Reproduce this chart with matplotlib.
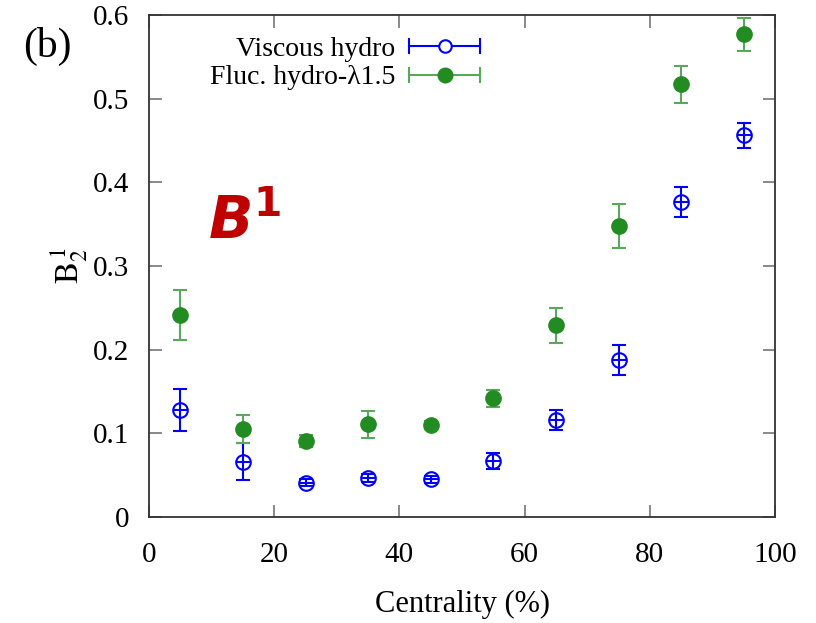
import matplotlib
matplotlib.use("Agg")
import matplotlib.pyplot as plt
from matplotlib.legend_handler import HandlerBase
from matplotlib.lines import Line2D

plt.rcParams['font.family'] = ['Liberation Serif', 'DejaVu Serif']
plt.rcParams['mathtext.fontset'] = 'stix'

centrality = [5, 15, 25, 35, 45, 55, 65, 75, 85, 95]
visc = [0.128, 0.066, 0.041, 0.047, 0.045, 0.067, 0.116, 0.188, 0.376, 0.456]
visc_err = [0.025, 0.022, 0.004, 0.005, 0.004, 0.010, 0.012, 0.018, 0.018, 0.015]
fluc = [0.241, 0.105, 0.091, 0.111, 0.110, 0.142, 0.229, 0.348, 0.517, 0.577]
fluc_err = [0.030, 0.017, 0.007, 0.016, 0.005, 0.010, 0.021, 0.026, 0.022, 0.020]
labels = ["Viscous hydro", "Fluc. hydro-λ1.5"]
xticks = [0, 20, 40, 60, 80, 100]
yticks = [0, 0.1, 0.2, 0.3, 0.4, 0.5, 0.6]

BLUE = '#0000ff'
GREEN = '#228b22'
GREEN_ERR = '#5aa85a'

fig = plt.figure(figsize=(8.16, 6.23), dpi=100)
ax = fig.add_axes([0.1826, 0.1701, 0.7672, 0.8058])

ax.errorbar(centrality, visc, yerr=visc_err, fmt='o', mfc='none', mec=BLUE,
            ms=10.5, mew=1.5, ecolor=BLUE, elinewidth=1.5, capsize=5, capthick=1.5,
            zorder=3)
ax.plot(centrality, visc, ls='none', marker='_', ms=10.5, mew=1.5, color=BLUE,
        zorder=3)
ax.errorbar(centrality, fluc, yerr=fluc_err, fmt='o', mfc=GREEN, mec=GREEN,
            ms=11, ecolor=GREEN_ERR, elinewidth=1.5, capsize=5, capthick=1.5,
            zorder=3)


class ErrLegendHandler(HandlerBase):
    def __init__(self, color, ecolor, filled):
        super().__init__()
        self.color = color
        self.ecolor = ecolor
        self.filled = filled

    def create_artists(self, legend, orig_handle, xdescent, ydescent, width,
                       height, fontsize, trans):
        y = height / 2 - ydescent
        x0, x1 = -xdescent, width - xdescent
        line = Line2D([x0, x1], [y, y], color=self.ecolor, lw=1.5)
        capl = Line2D([x0, x0], [y - 5, y + 5], color=self.ecolor, lw=1.5)
        capr = Line2D([x1, x1], [y - 5, y + 5], color=self.ecolor, lw=1.5)
        mk = Line2D([(x0 + x1) / 2], [y], marker='o', ms=9 if not self.filled else 10,
                    mfc=self.color if self.filled else 'white', mec=self.color,
                    mew=1.5, ls='none')
        arts = [line, capl, capr, mk]
        for a in arts:
            a.set_transform(trans)
        return arts


h1 = Line2D([], [])
h2 = Line2D([], [])
leg = ax.legend([h1, h2], labels, loc='upper left', bbox_to_anchor=(0.08, 0.98),
                frameon=False, markerfirst=False, fontsize=20, handlelength=2.55,
                handletextpad=0.5, labelspacing=0.12, borderaxespad=0.0,
                handler_map={h1: ErrLegendHandler(BLUE, BLUE, False),
                             h2: ErrLegendHandler(GREEN, GREEN_ERR, True)})
for t in leg.get_texts():
    t.set_ha('right')
leg._legend_box.align = 'right'

ax.set_xlim(0, 100)
ax.set_ylim(0, 0.6)
ax.set_xticks(xticks)
ax.set_yticks(yticks)
ax.set_xticklabels([str(v) for v in xticks])
ax.set_yticklabels(['0' if v == 0 else f'{v:.1f}' for v in yticks])
ax.tick_params(direction='in', length=9, width=1.3, color='#808080',
               top=True, right=True, labelsize=21, pad=14)
ax.tick_params(axis='x', pad=18)
for s in ax.spines.values():
    s.set_linewidth(1.3)
    s.set_color('#333333')

ax.set_xlabel('Centrality (%)', fontsize=22, labelpad=16)
ax.set_ylabel(r'$\mathrm{B}_2^{\,1}$', fontsize=24, labelpad=2)

fig.text(0.028, 0.925, '(b)', fontsize=30, ha='left', va='center')
fig.text(0.255, 0.642, r'$\mathbfit{B}^{\mathbf{1}}$', fontsize=42, color='#c00000',
         ha='left', va='center',
         math_fontfamily='dejavusans')

fig.savefig('out.png', dpi=100)
